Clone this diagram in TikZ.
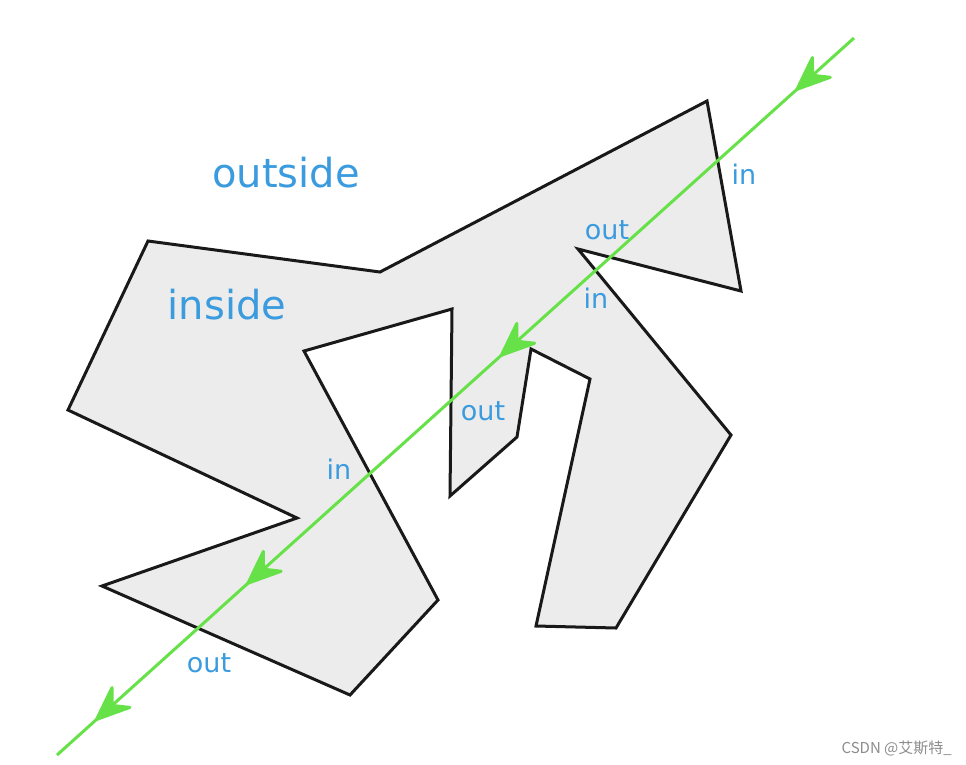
\documentclass[tikz,border=0pt]{standalone}
\usepackage{fontspec}
\setmainfont{DejaVu Sans}
\newfontfamily\cjkfont{Noto Sans CJK SC}
\usetikzlibrary{arrows.meta,decorations.markings}
\definecolor{rayGreen}{RGB}{102,226,72}
\definecolor{labelBlue}{RGB}{58,155,222}
\definecolor{polyFill}{RGB}{236,236,236}
\begin{document}
\begin{tikzpicture}[x=1pt,y=-1pt]
		\tikzstyle{every node}+=[inner sep=0pt]
		\tikzstyle{cross label}=[text=labelBlue, font=\fontsize{27}{27}\selectfont, anchor=base]
		\tikzstyle{region label}=[text=labelBlue, font=\fontsize{40}{40}\selectfont, anchor=base]
		\tikzstyle{ray}=[draw=rayGreen, line width=3pt, postaction={decorate}, decoration={markings,
			mark=at position 0.073 with {\arrow[rayGreen]{Stealth[length=42pt,width=34pt,inset=15pt,round]}},
			mark=at position 0.444 with {\arrow[rayGreen]{Stealth[length=42pt,width=34pt,inset=15pt,round]}},
			mark=at position 0.762 with {\arrow[rayGreen]{Stealth[length=42pt,width=34pt,inset=15pt,round]}},
			mark=at position 0.952 with {\arrow[rayGreen]{Stealth[length=42pt,width=34pt,inset=15pt,round]}}}]
		\useasboundingbox (0,0) rectangle (966,764);
		% the polygon
		\filldraw [fill=polyFill, draw=black!90, line width=3pt, line join=miter]
			(707,101) -- (741,291) -- (578,249) -- (731,435) -- (616,628) -- (536,626)
			-- (590,379) -- (531,349) -- (517,437) -- (450,496) -- (452,309) -- (304,351)
			-- (438,600) -- (350,695) -- (102,586) -- (297,518) -- (68,410) -- (148,241)
			-- (380,272) -- cycle;
		% the ray
		\coordinate (rayStart) at (854,38);
		\coordinate (rayEnd) at (57,755);
		\draw [ray] (rayStart) -- (rayEnd);
		% labels
		\node [region label] (outsideText) at (286,187) {outside};
		\node [region label] (insideText) at (227,319) {inside};
		\node [cross label] (inA) at (744,184) {in};
		\node [cross label] (outA) at (607,239) {out};
		\node [cross label] (inB) at (596,308) {in};
		\node [cross label] (outB) at (483,420) {out};
		\node [cross label] (inC) at (339,479) {in};
		\node [cross label] (outC) at (209,672) {out};
		\node [text=black!45, font=\cjkfont\fontsize{15}{15}\selectfont, anchor=base east] (mark) at (952,753) {CSDN @艾斯特\_};
	\end{tikzpicture}
\end{document}
